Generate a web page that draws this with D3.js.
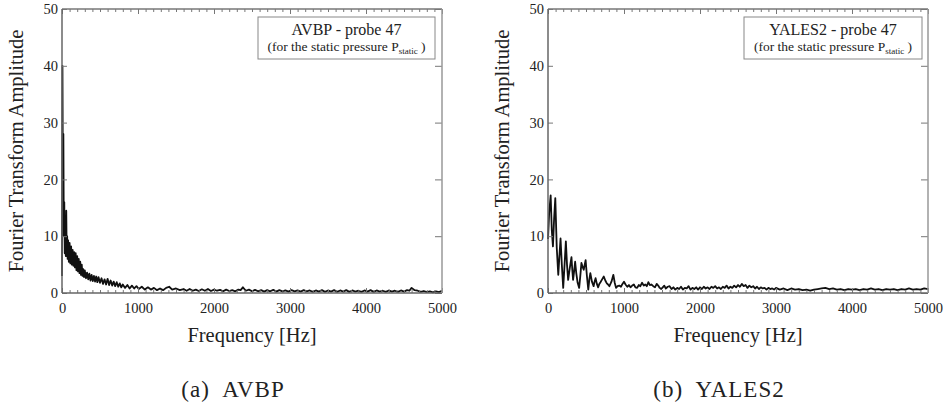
<!DOCTYPE html>
<html>
<head>
<meta charset="utf-8">
<script src="https://cdn.jsdelivr.net/npm/d3@7"></script>
<style>
  html, body { margin: 0; padding: 0; background: #fff; }
  svg { display: block; }
  text { font-family: "Liberation Serif", Tinos, "Times New Roman", Times, serif; fill: #222; }
</style>
</head>
<body>
<svg id="chart" width="943" height="408"></svg>
<script>
// ---------- data ----------
const xMajorTicks = [0, 1000, 2000, 3000, 4000, 5000];
const yMajorTicks = [0, 10, 20, 30, 40, 50];
const xLabel = "Frequency [Hz]";
const yLabel = "Fourier Transform Amplitude";

const avbpFreq = [0,6,12,18,24,30,36,42,50,56,62,68,74,80,90,100,110,120,130,140,150,160,170,180,190,200,210,220,230,240,250,260,270,280,290,300,315,330,345,360,375,390,405,420,435,450,465,480,500,520,540,560,580,600,620,640,660,680,700,720,740,760,780,800,830,860,890,920,950,980,1010,1050,1090,1130,1170,1210,1250,1290,1330,1370,1410,1450,1500,1550,1600,
1640,1680,1720,1760,1800,1840,1880,1920,1960,2000,2040,2080,2120,2160,2200,2240,2280,2320,2350,2380,2420,2460,2500,2540,2580,2620,2660,2700,2740,2780,2820,2860,2900,2940,2980,3020,3060,3100,3140,3180,3220,3260,3300,3340,3380,3420,3460,3500,3540,3580,3620,3660,3700,3740,3780,3820,3860,3900,3940,3980,4020,4060,4100,4140,4180,4220,4260,4300,4340,4380,4420,4460,4500,4540,4570,4600,4640,4680,4720,4760,4800,4840,4880,4920,4960,5000];
const avbpAmp = [3,40,18,28,10,16,7,11,6.5,14.5,6.5,10,6,9.3,5.5,8.8,5.2,8.2,5,7.6,4.8,7.2,4.5,7,4,6.5,3.8,6,3.5,5.5,3.2,5,3,4.2,2.8,4,2.6,3.6,2.4,3.4,2.2,3.2,2.1,3,2,2.9,1.9,2.8,1.8,2.6,1.6,2.4,1.5,2.5,1.4,2.2,1.3,2,1.2,1.9,1.1,1.7,1,1.5,0.9,1.4,0.8,1.3,0.8,1.2,0.7,1.1,0.6,1,0.6,0.9,0.5,0.8,0.5,0.9,1.1,0.6,0.8,0.5,0.7,0.4,
0.7,0.4,0.6,0.35,0.65,0.4,0.7,0.35,0.6,0.4,0.55,0.3,0.6,0.35,0.5,0.3,0.6,0.5,1.0,0.4,0.6,0.3,0.55,0.3,0.5,0.25,0.5,0.3,0.55,0.25,0.5,0.3,0.45,0.25,0.5,0.3,0.45,0.25,0.5,0.3,0.45,0.2,0.45,0.25,0.5,0.2,0.45,0.25,0.5,0.2,0.45,0.25,0.5,0.2,0.45,0.25,0.4,0.2,0.45,0.25,0.5,0.2,0.45,0.25,0.4,0.2,0.45,0.25,0.4,0.2,0.45,0.25,0.5,0.4,0.9,0.5,0.4,0.2,0.35,0.15,0.3,0.1,0.3,0.15,0.4,0.6];

const yalesFreq = [0,15,35,50,65,80,96,115,135,150,165,182,200,218,235,250,265,288,309,320,330,345,357,372,390,410,425,440,455,470,483,495,512,530,545,557,578,600,613,626,643,660,675,690,712,734,754,774,790,808,835,860,878,895,915,938,960,980,1000,1020,1043,1065,1085,1108,1130,1150,1173,1195,1215,1238,1260,1280,1300,1320,1340,1360,1385,1408,1430,1450,1470,1490,1510,1530,1550,1575,1600,1625,1650,1675,1700,1725,1750,1775,1800,1825,1850,1875,1900,1925,1950,1975,2000,2025,2050,2075,2100,2125,2150,2175,2200,2225,2250,2275,2300,2325,2350,2375,2400,2425,2450,2475,2500,2525,2550,2575,2600,2625,2650,2675,2700,2725,2750,2775,2800,2825,2850,2875,2900,2925,2950,2975,3000,3050,3100,3150,3200,3250,3300,3350,3400,3450,3500,3550,3600,3650,3700,3750,3800,3850,3900,3950,4000,4050,4100,4150,4200,4250,4300,4350,4400,4450,4500,4550,4600,4650,4700,4750,4800,4850,4900,4950,5000];
const yalesAmp = [9.5,14,17.2,11,8.2,13,16.7,8,3.2,6.5,9.6,5,0.9,5,9.1,5,2.3,4.5,6.3,4,2.3,4,5.5,3.5,1.8,0.9,3,5.3,4.6,4.1,5,5.8,3,0.6,2.5,3.5,2,1.2,2,2.6,1.6,1,1.6,1.9,2.4,2.9,2.2,1.7,1.5,1.2,2,3.2,1.8,0.9,1.2,1.3,1.1,1.6,2,1.5,1.1,1.4,1.0,1.3,1.5,1.0,0.9,1.4,1.2,1.8,1.3,1.5,1.2,1.9,1.4,1.5,1.2,1.0,1.6,1.3,0.9,0.7,1.0,1.3,0.8,1.1,1.2,0.7,1.0,0.6,0.9,0.7,1.1,0.6,0.9,0.8,1.2,0.6,0.9,0.7,1.0,0.6,1.0,0.7,1.1,0.8,1.0,0.7,1.1,0.9,1.2,0.8,1.0,0.7,1.1,0.9,1.3,0.8,1.1,0.9,1.3,1.0,1.4,1.1,1.6,1.2,1.4,0.9,1.3,1.0,1.2,0.8,1.1,0.7,1.0,0.8,0.9,0.6,0.9,0.7,0.8,0.6,0.9,0.6,0.8,0.5,0.8,0.6,0.7,0.5,0.6,0.4,0.6,0.7,0.8,0.9,0.7,0.8,0.6,0.7,0.5,0.7,0.6,0.7,0.5,0.7,0.6,0.8,0.6,0.7,0.5,0.7,0.6,0.7,0.5,0.7,0.6,0.8,0.6,0.7,0.6,0.8,0.7];

const panels = [
  { freq: avbpFreq, amp: avbpAmp, left: 62, right: 442, title: "AVBP - probe 47", caption: "(a)\u2002AVBP", capX: 233, box: [258, 17, 177, 42] },
  { freq: yalesFreq, amp: yalesAmp, left: 548, right: 928, title: "YALES2 - probe 47", caption: "(b)\u2002YALES2", capX: 719, box: [744, 17, 178, 42] }
];

// ---------- drawing ----------
const svg = d3.select("#chart");
const plotTop = 9, plotBottom = 293;
const xMinor = d3.range(0, 5001, 100).filter(v => v % 1000 !== 0);

panels.forEach(p => {
  const g = svg.append("g");
  const x = d3.scaleLinear().domain([0, 5000]).range([p.left, p.right]);
  const y = d3.scaleLinear().domain([0, 50]).range([plotBottom, plotTop]);

  // data line
  const line = d3.line().x((d, i) => x(p.freq[i])).y(d => y(d));
  g.append("path").datum(p.amp)
    .attr("d", line).attr("fill", "none")
    .attr("stroke", "#111").attr("stroke-width", 1.8).attr("stroke-linejoin", "round");

  // bottom axis with labels
  const bx = g.append("g").attr("transform", `translate(0,${plotBottom})`)
    .call(d3.axisBottom(x).tickValues(xMajorTicks).tickSizeInner(-5).tickSizeOuter(0).tickPadding(10).tickFormat(d3.format("d")));
  const bxm = g.append("g").attr("transform", `translate(0,${plotBottom})`)
    .call(d3.axisBottom(x).tickValues(xMinor).tickSizeInner(-3).tickSizeOuter(0).tickFormat(""));
  // top axis
  const tx = g.append("g").attr("transform", `translate(0,${plotTop})`)
    .call(d3.axisTop(x).tickValues(xMajorTicks).tickSizeInner(-5).tickSizeOuter(0).tickFormat(""));
  const txm = g.append("g").attr("transform", `translate(0,${plotTop})`)
    .call(d3.axisTop(x).tickValues(xMinor).tickSizeInner(-3).tickSizeOuter(0).tickFormat(""));
  // left axis
  const ly = g.append("g").attr("transform", `translate(${p.left},0)`)
    .call(d3.axisLeft(y).tickValues(yMajorTicks).tickSizeInner(-5).tickSizeOuter(0).tickPadding(4).tickFormat(d3.format("d")));
  // right axis
  const ry = g.append("g").attr("transform", `translate(${p.right},0)`)
    .call(d3.axisRight(y).tickValues(yMajorTicks).tickSizeInner(-7).tickSizeOuter(0).tickFormat(""));

  [bx, bxm, tx, txm, ly, ry].forEach(a => {
    a.select(".domain").remove();
    a.attr("font-family", null);
    a.selectAll(".tick line").attr("stroke", "#777").attr("stroke-width", 1);
    a.selectAll("text").attr("font-size", 14.5).attr("fill", "#222");
  });

  // frame
  g.append("line").attr("x1", p.left).attr("x2", p.right).attr("y1", plotTop).attr("y2", plotTop).attr("stroke", "#777").attr("stroke-width", 1.5);
  g.append("line").attr("x1", p.left).attr("x2", p.right).attr("y1", plotBottom).attr("y2", plotBottom).attr("stroke", "#666").attr("stroke-width", 1.5);
  g.append("line").attr("x1", p.left).attr("x2", p.left).attr("y1", plotTop).attr("y2", plotBottom).attr("stroke", "#666").attr("stroke-width", 1.5);
  g.append("line").attr("x1", p.right).attr("x2", p.right).attr("y1", plotTop).attr("y2", plotBottom).attr("stroke", "#999").attr("stroke-width", 1.5);

  // axis titles
  g.append("text").attr("x", (p.left + p.right) / 2).attr("y", 342)
    .attr("text-anchor", "middle").attr("font-size", 20.5).text(xLabel);
  g.append("text").attr("transform", `translate(${p.left - 39},${(plotTop + plotBottom) / 2}) rotate(-90)`)
    .attr("text-anchor", "middle").attr("font-size", 20.5).text(yLabel);

  // legend box
  const [bxX, bxY, bxW, bxH] = p.box;
  g.append("rect").attr("x", bxX).attr("y", bxY).attr("width", bxW).attr("height", bxH)
    .attr("fill", "#fff").attr("stroke", "#888").attr("stroke-width", 1);
  const cx = bxX + bxW / 2;
  g.append("text").attr("x", cx).attr("y", 35).attr("text-anchor", "middle").attr("font-size", 16).text(p.title);
  const t2 = g.append("text").attr("x", cx).attr("y", 51).attr("text-anchor", "middle").attr("font-size", 13.5);
  t2.append("tspan").text("(for the static pressure P");
  t2.append("tspan").attr("font-size", 9).attr("dy", 3).text("static");
  t2.append("tspan").attr("dy", -3).text("\u00a0)");

  // caption
  g.append("text").attr("x", p.capX).attr("y", 397).attr("text-anchor", "middle")
    .attr("font-size", 23).attr("letter-spacing", 1).attr("fill", "#111").text(p.caption);
});
</script>
</body>
</html>
